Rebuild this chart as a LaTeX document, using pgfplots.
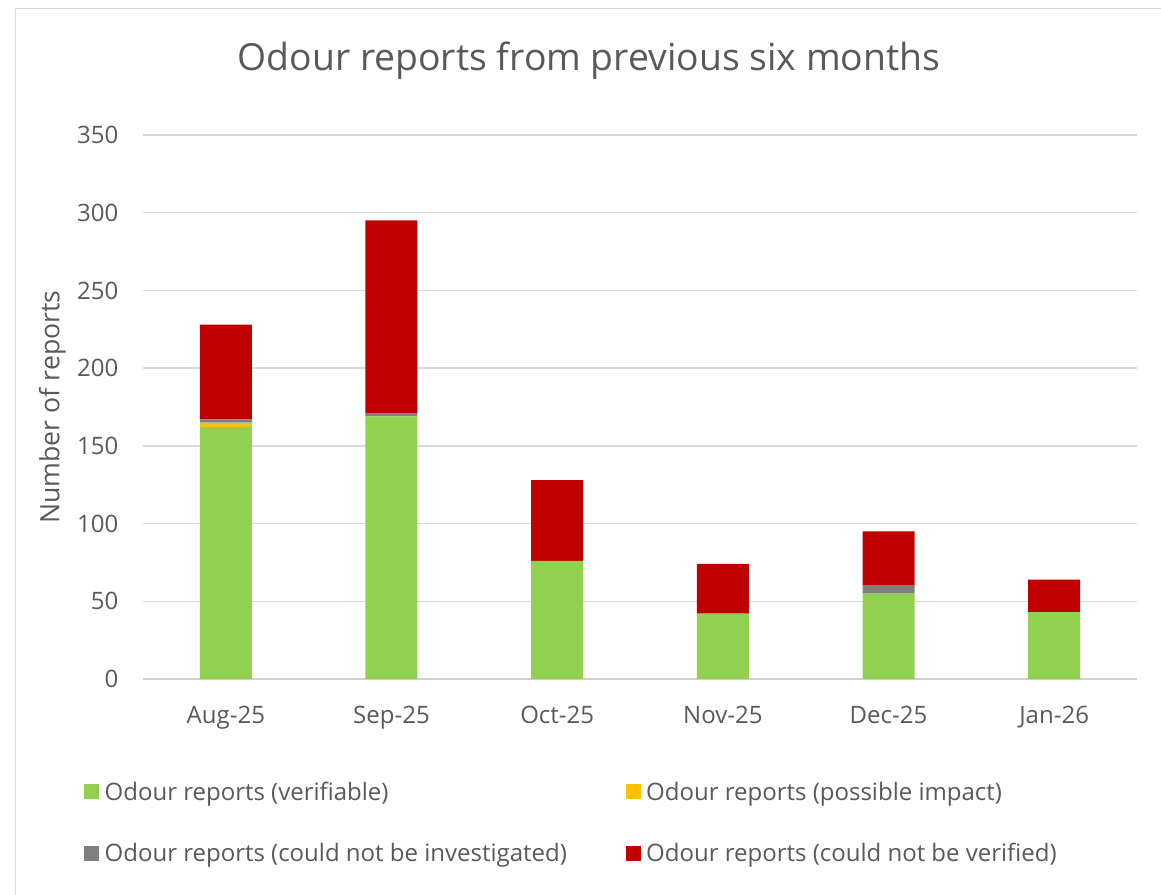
\documentclass[border=0pt]{standalone}
\usepackage{pgfplots}
\pgfplotsset{compat=1.18}
\usepackage{fontspec}
\setmainfont{Open Sans}
\definecolor{cgreen}{HTML}{92D050}
\definecolor{cyellow}{HTML}{FFC000}
\definecolor{cgray}{HTML}{808080}
\definecolor{cred}{HTML}{C00000}
\definecolor{ctext}{HTML}{595959}
\definecolor{cgrid}{HTML}{D9D9D9}
\definecolor{caxis}{HTML}{D0D0D0}
\begin{document}
\begin{tikzpicture}
\useasboundingbox (-107.25pt,-161.25pt) rectangle (763.5pt,509.25pt);
\draw[cgrid, line width=0.75pt] (-95.25pt,-180pt) -- (-95.25pt,502.5pt) -- (780pt,502.5pt);
\begin{axis}[
  at={(0pt,0pt)}, anchor=south west,
  scale only axis, width=745.5pt, height=408pt,
  ybar stacked, bar width=39pt,
  xmin=-0.5, xmax=5.5, ymin=0, ymax=350,
  ytick={0,50,...,350},
  xtick={0,1,2,3,4,5},
  xticklabels={Aug-25,Sep-25,Oct-25,Nov-25,Dec-25,Jan-26},
  axis lines*=left,
  y axis line style={draw=none},
  x axis line style={draw=caxis, line width=1pt},
  ymajorgrids, grid style={cgrid, line width=1pt},
  major tick length=0pt,
  tick style={draw=none},
  /pgf/number format/assume math mode=true,
  ticklabel style={font=\fontsize{18}{22}\selectfont, text=ctext},
  yticklabel style={xshift=-15pt},
  xticklabel style={yshift=-16.5pt},
  ylabel={Number of reports},
  every axis y label/.style={at={(axis description cs:-0.0913,0.5)}, rotate=90, anchor=center, font=\fontsize{20}{24}\selectfont, text=ctext},
  title={Odour reports from previous six months},
  title style={at={(axis description cs:0.4487,1.1213)}, anchor=center, font=\fontsize{28}{33}\selectfont, text=ctext},
  legend columns=2,
  legend cell align=left,
  legend style={at={(axis description cs:-0.0594,-0.1839)}, anchor=north west, draw=none, fill=none,
    inner sep=0pt, outer sep=0pt,
    font=\fontsize{18}{22}\selectfont, text=ctext,
    /tikz/every even column/.append style={column sep=42pt},
    /tikz/row sep=27pt},
  legend image code/.code={\path (0pt,0pt) -- (13.5pt,0pt); \fill[#1] (0pt,-5.6pt) rectangle (11.25pt,5.6pt);},
]
\addplot[fill=cgreen, draw=none] coordinates {(0,162) (1,169) (2,76) (3,42) (4,55) (5,43)};
\addplot[fill=cyellow, draw=none] coordinates {(0,3) (1,0) (2,0) (3,0) (4,0) (5,0)};
\addplot[fill=cgray, draw=none] coordinates {(0,2) (1,2) (2,0) (3,0) (4,5) (5,0)};
\addplot[fill=cred, draw=none] coordinates {(0,61) (1,124) (2,52) (3,32) (4,35) (5,21)};
\legend{Odour reports (verifiable),Odour reports (possible impact),Odour reports (could not be investigated),Odour reports (could not be verified)}
\end{axis}
\end{tikzpicture}
\end{document}
